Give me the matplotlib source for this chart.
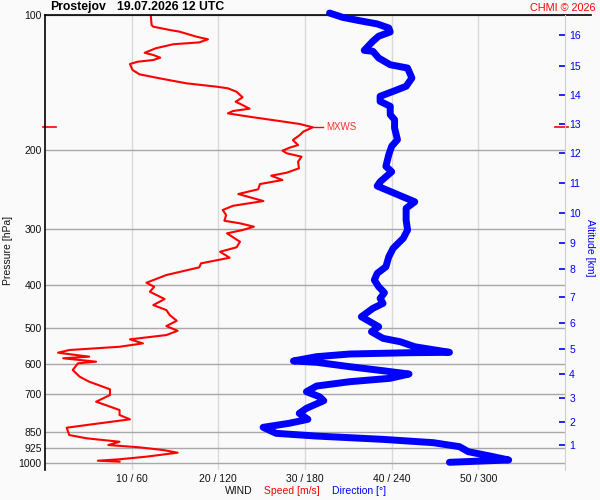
import numpy as np
import matplotlib.pyplot as plt
from matplotlib.ticker import NullLocator

plt.rcParams['font.family'] = ['Liberation Sans', 'DejaVu Sans']

# sounding data
speed_p = [100.0, 105.3, 106.2, 108.0, 108.9, 111.8, 113.3, 115.1, 116.2, 118.6,
           121.4, 122.8, 124.5, 126.0, 127.1, 128.6, 132.6, 135.6, 138.4, 142.0,
           144.5, 145.7, 148.3, 152.6, 156.1, 158.8, 161.8, 163.7, 165.7, 168.6,
           172.4, 175.0, 178.0, 182.0, 185.2, 190.0, 195.0, 197.7, 200.7, 203.4,
           207.0, 212.4, 219.7, 224.7, 228.2, 233.3, 238.2, 244.7, 250.7, 259.9,
           266.3, 272.2, 279.3, 287.6, 291.4, 296.5, 301.6, 306.8, 320.3, 329.6,
           337.2, 347.7, 357.9, 365.3, 380.0, 395.4, 403.6, 414.0, 429.9, 443.4,
           454.9, 466.8, 480.6, 493.9, 505.9, 517.2, 528.7, 539.7, 549.2, 558.5,
           566.2, 577.9, 582.7, 592.9, 597.9, 618.8, 640.5, 657.1, 683.3, 703.6,
           728.2, 759.9, 779.7, 797.1, 820.8, 832.3, 864.1, 878.8, 889.8, 894.3,
           909.6, 920.4, 933.1, 946.1, 965.6, 978.6, 985.8, 990.8]
speed = [12.2, 12.3, 12.5, 14.4, 15.5, 17.5, 18.8, 17.8, 14.8, 12.8,
         11.5, 12.5, 13.3, 12.5, 10.7, 9.8, 10.1, 10.9, 13.2, 16.3,
         19.8, 21.1, 22.1, 22.8, 22.0, 22.8, 23.6, 21.7, 21.1, 23.6,
         27.1, 29.4, 30.9, 29.8, 29.4, 28.6, 29.2, 28.2, 27.4, 27.9,
         29.6, 29.2, 29.3, 27.9, 26.1, 27.4, 24.8, 24.6, 22.3, 25.2,
         21.7, 20.5, 20.9, 20.7, 22.5, 24.1, 22.8, 21.0, 22.5, 22.1,
         20.2, 21.3, 18.0, 17.8, 14.0, 11.7, 12.6, 12.1, 13.8, 12.5,
         14.0, 14.4, 15.2, 14.0, 15.3, 14.0, 9.8, 11.3, 8.6, 2.8,
         1.5, 5.1, 2.1, 5.9, 3.8, 3.2, 4.0, 5.1, 7.5, 7.5,
         5.9, 8.6, 8.6, 9.8, 4.8, 2.5, 2.8, 4.8, 7.5, 8.6,
         7.3, 10.9, 13.6, 15.3, 11.7, 8.6, 6.1, 8.6]

dir_p = [99.0, 101.2, 103.0, 104.7, 106.9, 109.1, 111.5, 114.4, 119.9, 120.5,
         124.7, 129.1, 131.3, 138.2, 144.2, 148.0, 151.8, 155.8, 159.8, 166.8,
         171.2, 178.6, 189.7, 196.2, 204.8, 217.5, 223.6, 235.4, 240.6, 249.8,
         260.9, 269.8, 286.5, 301.6, 314.7, 331.3, 346.0, 364.2, 376.7, 389.8,
         403.6, 416.2, 428.4, 439.5, 450.9, 470.8, 483.0, 495.5, 508.4, 526.0,
         535.3, 549.2, 565.1, 566.2, 570.0, 577.9, 590.8, 594.8, 608.4, 621.1,
         631.7, 645.7, 657.1, 671.9, 691.8, 709.8, 724.4, 753.3, 773.0, 797.1,
         813.6, 830.6, 856.6, 868.6, 883.5, 898.8, 917.4, 941.2, 962.3, 982.2,
         987.2, 993.9]
direction = [197, 206, 218, 230, 238, 239, 231, 227, 221, 227,
             231, 239, 251, 254, 250, 241, 232, 232, 239, 239,
             242, 242, 244, 240, 238, 236, 240, 232, 230, 242,
             256, 250, 250, 251, 248, 241, 238, 236, 230, 228,
             231, 235, 232, 234, 227, 219, 225, 231, 226, 234,
             246, 256, 280, 253, 211, 188, 172, 188, 211, 234,
             252, 239, 211, 188, 181, 190, 193, 181, 176, 182,
             169, 151, 160, 188, 234, 269, 287, 293, 308, 321,
             303, 280]

p_ticks = [100, 200, 300, 400, 500, 600, 700, 850, 925, 1000]
speed_ticks = [10, 20, 30, 40, 50]
dir_ticks = [60, 120, 180, 240, 300]
alt_km = list(range(1, 17))
alt_p = [909.3, 809.2, 715.6, 631.7, 556.3, 486.8, 424.8, 369.0, 321.9, 275.9,
         237.3, 202.8, 175.0, 150.8, 129.7, 110.9]

p_top = 100
p_bottom = 1034

bg = '#fafafa'
fig = plt.figure(figsize=(6, 5), dpi=100, facecolor=bg)
ax = fig.add_axes([0.075, 0.06, 0.8667, 0.91])
ax.set_facecolor(bg)

ax.set_yscale('log')
ax.set_ylim(p_bottom, p_top)
ax.yaxis.set_minor_locator(NullLocator())
ax.set_yticks(p_ticks)
ax.set_yticklabels([str(p) for p in p_ticks])
ax.set_xlim(0, 60)
ax.set_xticks(speed_ticks)
ax.set_xticklabels([f'{s} / {d}' for s, d in zip(speed_ticks, dir_ticks)])
ax.tick_params(axis='both', which='both', length=0, labelsize=7.5, colors='#111111')
ax.tick_params(axis='y', pad=2.5)
ax.tick_params(axis='x', pad=3)
ax.grid(axis='y', color='#a8a8a8', lw=1)
ax.grid(axis='x', color='#d9d9d9', lw=1)
ax.set_axisbelow(True)
for side in ['top', 'bottom', 'right']:
    ax.spines[side].set_visible(False)
ax.spines['left'].set_color('black')
ax.spines['left'].set_linewidth(1.2)
ax.axhline(p_top, xmin=0, xmax=1.05, color='black', lw=1.2, clip_on=False, zorder=5)

# wind speed
ax.plot(speed, speed_p, color='red', lw=1.5, zorder=3)

# max wind marker
i = int(np.argmax(speed))
s_max, p_max = speed[i], speed_p[i]
ax.plot([s_max, s_max + 1.2], [p_max, p_max], color='red', lw=1)
ax.text(s_max + 1.6, p_max, 'MXWS', color='#ff3030', fontsize=7, va='center')
tr = ax.get_yaxis_transform()
ax.plot([-0.004, 0.021], [p_max, p_max], transform=tr, color='red', lw=1.2, clip_on=False)
ax.plot([0.98, 1.006], [p_max, p_max], transform=tr, color='red', lw=1.2, clip_on=False, zorder=6)

# wind direction
axd = ax.twiny()
axd.set_xlim(0, 360)
axd.plot(direction, dir_p, color='blue', lw=5, clip_on=False, solid_capstyle='round')
axd.set_xticks([])
for side in axd.spines:
    axd.spines[side].set_visible(False)

# altitude axis
axr = ax.twinx()
axr.set_yscale('log')
axr.set_ylim(p_bottom, p_top)
axr.yaxis.set_minor_locator(NullLocator())
axr.set_yticks(alt_p)
axr.set_yticklabels([str(k) for k in alt_km])
axr.tick_params(axis='y', direction='in', length=4.5, width=1.2, color='blue',
                labelcolor='blue', labelsize=7.5, pad=3)
for side in ['top', 'bottom', 'left']:
    axr.spines[side].set_visible(False)
axr.spines['right'].set_color('#cfcfcf')

fig.text(0.0133, 0.5, 'Pressure [hPa]', rotation=90, va='center', ha='center',
         fontsize=7.5, color='#111111')
fig.text(0.983, 0.504, 'Altitude [km]', rotation=270, va='center', ha='center',
         fontsize=7.5, color='blue')

fig.text(50 / 600, 1 - 7 / 500, 'Prostejov', weight='bold', fontsize=8.8, va='center')
fig.text(117 / 600, 1 - 7 / 500, '19.07.2026 12 UTC', weight='bold', fontsize=8.8, va='center')
fig.text(596 / 600, 1 - 8 / 500, 'CHMI © 2026', color='red', ha='right', va='center', fontsize=7.8)

fig.text(225 / 600, 0.018, 'WIND', va='center', fontsize=7.5, color='#111111')
fig.text(264 / 600, 0.018, 'Speed [m/s]', va='center', fontsize=7.5, color='red')
fig.text(332 / 600, 0.018, 'Direction [°]', va='center', fontsize=7.5, color='blue')

fig.savefig('out.png', dpi=100, facecolor=bg)
